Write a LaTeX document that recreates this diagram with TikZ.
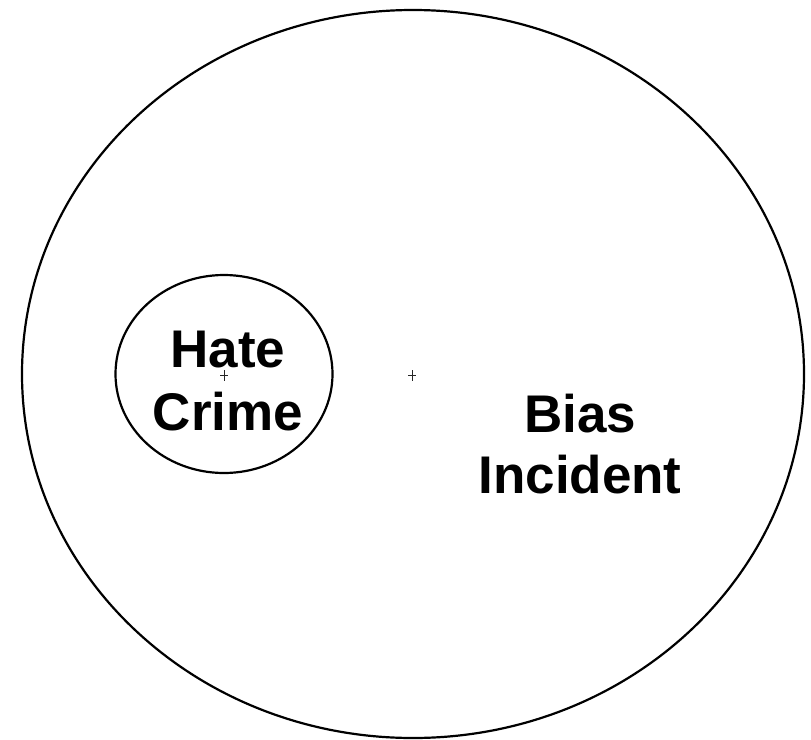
\documentclass[tikz,border=0pt]{standalone}
\usepackage{fontspec}
\setmainfont{Liberation Sans}
\tikzset{
  ring/.style={draw=black, line width=2.2pt},
  label/.style={font=\bfseries\fontsize{53}{62}\selectfont, align=center, inner sep=0pt},
  tick/.style={draw=black!85, line width=1pt}
}
\begin{document}
\begin{tikzpicture}[x=1pt,y=-1pt]
\useasboundingbox (0,0) rectangle (811,739);
\fill[white] (0,0) rectangle (811,739);
\coordinate (oc) at (413,374);
\coordinate (ic) at (224,374);
\draw[ring] (oc) ellipse [x radius=391, y radius=364];
\draw[ring] (ic) ellipse [x radius=108.5, y radius=99];
\draw[tick] (224,370) -- (224,381) (220,375.5) -- (228,375.5);
\draw[tick] (412,370) -- (412,381) (408,375.5) -- (416,375.5);
\node[label, anchor=base] (hate) at (228,367) {Hate};
\node[label, anchor=base] (crime) at (228,430) {Crime};
\node[label, anchor=base] (bias) at (580,432) {Bias};
\node[label, anchor=base] (inc) at (580,493) {Incident};
\end{tikzpicture}
\end{document}
